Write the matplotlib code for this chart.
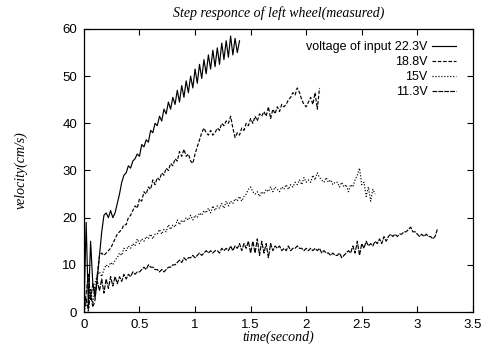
import numpy as np
import matplotlib
matplotlib.use('Agg')
import matplotlib.pyplot as plt
from matplotlib.ticker import FormatStrFormatter

# sampling interval of the measured data (s)
dt = 0.02

# measured velocity (cm/s), one sample every dt, for each input voltage
v_223 = [0, 19, 1, 15, 6, 3, 7, 12, 17, 20.5,
         21, 20, 21.5, 20, 21, 23, 25, 27.5, 29, 29.5,
         31, 30.5, 32, 32.5, 33.5, 33, 35.5, 35, 36.5, 36,
         38.5, 38, 40, 39.5, 41.5, 40.5, 43, 42, 44.5, 43,
         45.5, 44, 47, 44.5, 48, 45.5, 49, 46.5, 50, 47.5,
         51.5, 48.5, 52.5, 49.5, 53.5, 50.5, 54.5, 51.5, 55.5, 52,
         56, 52.5, 57, 53.5, 57.5, 54, 58.5, 54.5, 58, 55,
         57.5]

v_188 = [0, 3, 0.5, 4, 1, 2.5, 8, 12, 12.5, 12,
         12.5, 13, 13.5, 14.5, 15.5, 16.5, 17, 17.5, 18.5, 18.5,
         20, 20.5, 21.5, 22.5, 22, 24, 23.5, 25.5, 25, 26.5,
         26, 28, 27, 28.5, 28, 29.5, 29, 30.5, 30, 31.5,
         31, 32.5, 32, 34, 33, 34.5, 33, 33.5, 32, 31.5,
         33.5, 35, 36.5, 38, 39, 38, 37.5, 38.5, 37.5, 38,
         39, 38.5, 40, 39.5, 40.5, 40, 41.5, 39, 37, 38,
         37.5, 39, 38.5, 40, 39.5, 41, 40, 41.5, 40.5, 42,
         41.5, 42.5, 41.5, 43.5, 41, 43, 42, 43.5, 42.5, 44,
         43.5, 44, 45, 45.5, 46.5, 46, 47.5, 46.5, 45, 44,
         43.5, 44.5, 45.5, 44, 46.5, 43, 47.5]

v_150 = [0, 2, 0, 5, 1.5, 6, 8, 8.5, 7.5, 9,
         10, 9.5, 10.5, 10, 11, 11.5, 12.5, 12, 13.5, 13,
         14, 13.5, 14.5, 14, 15.5, 14.5, 15.5, 15, 16, 15.5,
         16.5, 15.5, 16.5, 16.5, 17.5, 16.5, 17.5, 17, 18.5, 17.5,
         18.5, 18, 19.5, 18.5, 19.5, 19, 20, 19.5, 20.5, 19.5,
         20.5, 20, 21, 20.5, 21.5, 21, 22, 21, 22.5, 21.5,
         22.5, 22, 23, 22, 23.5, 22.5, 23.5, 23, 24, 23.5,
         24.5, 23.5, 24.5, 25, 26, 26.5, 25.5, 25, 25.5, 24.5,
         25.5, 25, 26, 25.5, 26.5, 25.5, 26.5, 26, 25.5, 26.5,
         26, 27, 26, 27, 26.5, 27.5, 27, 28, 27, 28.5,
         27.5, 28, 27.5, 29, 28, 29.5, 28.5, 28, 27.5, 28.5,
         27.5, 28, 27, 27.5, 27.5, 26.5, 27.5, 26.5, 27, 25.5,
         27, 26.5, 28, 29, 30.5, 27, 27.5, 24.5, 26.5, 23.5,
         26, 25]

v_113 = [0, 4, 8, 2.5, 6, 4, 6.5, 4.5, 7, 4,
         7, 5, 7.5, 5.5, 7.5, 6, 7.5, 6.5, 8, 7,
         8, 7.5, 8.5, 8, 8.5, 8.5, 9, 9.5, 9, 10,
         9.5, 9.5, 9, 9, 8.5, 9, 8.5, 9, 9.5, 9.5,
         10, 10, 10.5, 11, 10.5, 11.5, 11, 11.5, 11.5, 12,
         11.5, 12, 12.5, 12, 12.5, 13, 12.5, 13, 12.5, 13,
         13, 12.5, 13.5, 13, 13.5, 13, 14, 13, 14, 13.5,
         14.5, 13, 14.5, 13.5, 15, 12.5, 15, 12.5, 15.5, 12,
         15, 12.5, 14.5, 11.5, 14.5, 13, 14, 13.5, 14, 13,
         13.5, 13, 14, 13, 13.5, 13.5, 14, 13.5, 13.5, 13,
         13.5, 13, 13.5, 13, 13.5, 13, 13.5, 12.5, 13, 12.5,
         12.5, 12, 12.5, 12, 12, 12.5, 11.5, 12, 12.5, 13,
         12.5, 14, 12.5, 15, 12, 14.5, 13.5, 15, 14, 14.5,
         14, 15, 14.5, 15.5, 14.5, 16, 15, 16, 16.5, 16,
         16.5, 16, 16.5, 16.5, 17, 17, 17.5, 18, 17, 17,
         16.5, 16, 16.5, 16, 16.5, 16, 16, 15.5, 16, 17.5]

labels = ['voltage of input 22.3V', '18.8V', '15V', '11.3V']
xticks = [0, 0.5, 1, 1.5, 2, 2.5, 3, 3.5]
yticks = [0, 10, 20, 30, 40, 50, 60]

plt.rcParams['font.family'] = ['Liberation Sans', 'DejaVu Sans']
serif = {'family': 'Liberation Serif', 'style': 'italic', 'size': 10}

fig = plt.figure(figsize=(4.88, 3.49), dpi=100)
ax = fig.add_axes([0.172, 0.106, 0.797, 0.811])

styles = ['-', (0, (3, 1.5)), (0, (1, 1.5)), (0, (4, 1))]
for v, lab, ls in zip([v_223, v_188, v_150, v_113], labels, styles):
    t = np.arange(len(v)) * dt
    ax.plot(t, v, color='black', lw=0.85, linestyle=ls, label=lab)

ax.set_xlim(0, 3.5)
ax.set_ylim(0, 60)
ax.set_xticks(xticks)
ax.set_yticks(yticks)
ax.xaxis.set_major_formatter(FormatStrFormatter('%g'))
ax.tick_params(direction='in', top=True, right=True, length=4,
               width=0.8, labelsize=9.5, pad=5)
for s in ax.spines.values():
    s.set_linewidth(0.9)

ax.set_title('Step responce of left wheel(measured)', fontdict=serif, pad=9)
ax.set_xlabel('time(second)', fontdict=serif)
ax.set_ylabel('velocity(cm/s)', fontdict=serif)
ax.xaxis.set_label_coords(0.5, -0.065)
ax.yaxis.set_label_coords(-0.145, 0.5)

ax.legend(loc='upper right', bbox_to_anchor=(0.97, 0.975), frameon=False,
          markerfirst=False, fontsize=9, handlelength=1.9,
          handletextpad=0.4, labelspacing=0.25, borderaxespad=0)

fig.savefig('out.png', dpi=100)
